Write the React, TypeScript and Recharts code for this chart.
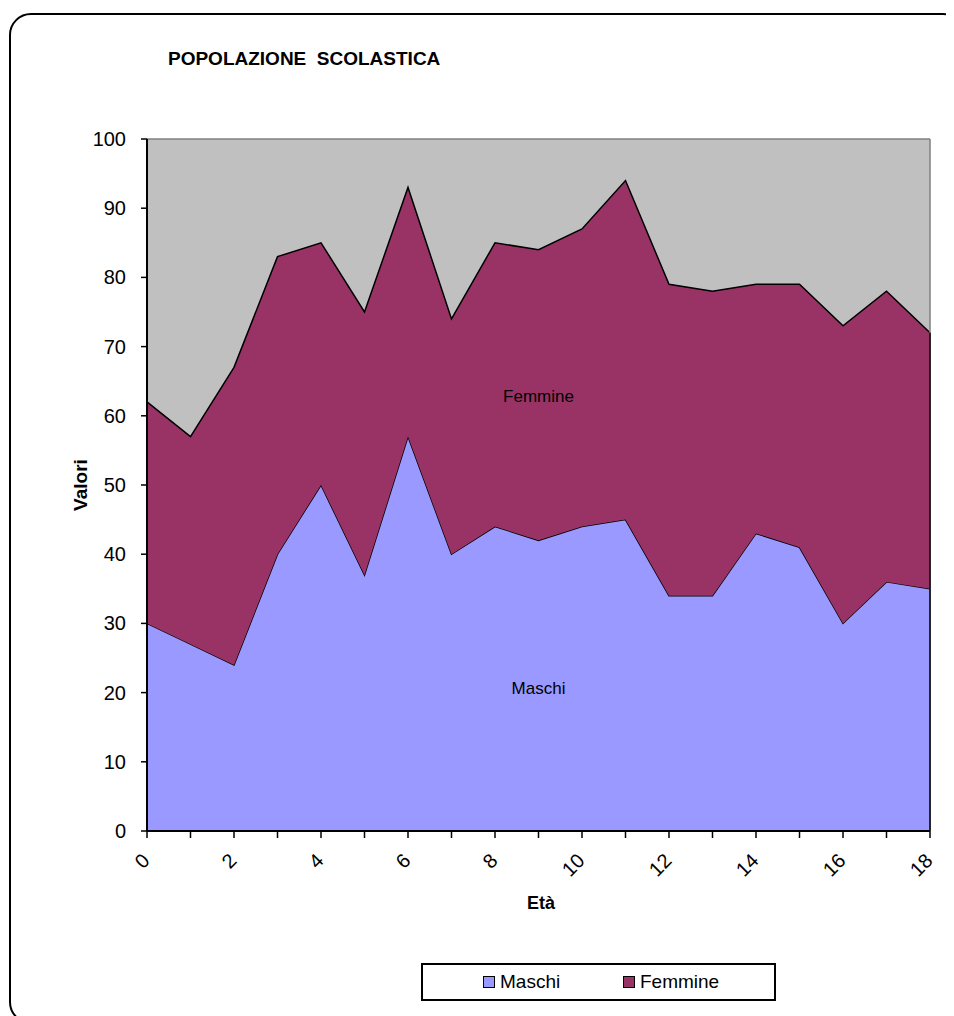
import { AreaChart, Area, XAxis, YAxis, CartesianGrid, ReferenceLine, ReferenceDot } from 'recharts';

// età 0..18
const eta = [0, 1, 2, 3, 4, 5, 6, 7, 8, 9, 10, 11, 12, 13, 14, 15, 16, 17, 18];
const maschi = [30, 27, 24, 40, 50, 37, 57, 40, 44, 42, 44, 45, 34, 34, 43, 41, 30, 36, 35];
const femmine = [32, 30, 43, 43, 35, 38, 36, 34, 41, 42, 43, 49, 45, 44, 36, 38, 43, 42, 37];
const yTicks = [0, 10, 20, 30, 40, 50, 60, 70, 80, 90, 100];

const MASCHI_COLOR = '#9999FF';
const FEMMINE_COLOR = '#993366';
const PLOT_BG = '#C0C0C0';
const FONT = '"Liberation Sans", Arial, sans-serif';

const data = eta.map((e, i) => ({ eta: e, maschi: maschi[i], femmine: femmine[i] }));
const last = data.length - 1;
const lastTotal = maschi[last] + femmine[last];

const legendItems = [
  { name: 'Maschi', color: MASCHI_COLOR, left: 60 },
  { name: 'Femmine', color: FEMMINE_COLOR, left: 200 },
];

const XTick = (props: any) => {
  const { x, y, payload, index } = props;
  if (index % 2 !== 0) return null;
  const tx = x - 1;
  const ty = y + 17;
  return (
    <text
      x={tx}
      y={ty}
      transform={`rotate(-45, ${tx}, ${ty})`}
      textAnchor="end"
      dominantBaseline="central"
      fontSize={20}
      fontFamily={FONT}
      fill="#000"
    >
      {payload.value}
    </text>
  );
};

const YTick = (props: any) => {
  const { x, y, payload } = props;
  return (
    <text
      x={x - 13}
      y={y}
      textAnchor="end"
      dominantBaseline="central"
      fontSize={20}
      fontFamily={FONT}
      fill="#000"
    >
      {payload.value}
    </text>
  );
};

export default function App() {
  return (
    <div style={{ position: 'relative', width: 946, height: 1008, overflow: 'hidden', fontFamily: FONT }}>
      <div
        style={{
          position: 'absolute',
          left: 1,
          top: 5,
          width: 952,
          height: 1007,
          border: '2px solid #000',
          borderRadius: 22,
        }}
      />
      <div
        style={{
          position: 'absolute',
          left: 160,
          top: 40,
          fontSize: 19,
          fontWeight: 'bold',
          whiteSpace: 'pre',
        }}
      >
        {'POPOLAZIONE  SCOLASTICA'}
      </div>
      <div
        style={{
          position: 'absolute',
          left: 73,
          top: 477,
          transform: 'translate(-50%, -50%) rotate(-90deg)',
          fontSize: 19,
          fontWeight: 'bold',
        }}
      >
        Valori
      </div>
      <div
        style={{
          position: 'absolute',
          left: 533,
          top: 895,
          transform: 'translate(-50%, -50%)',
          fontSize: 18,
          fontWeight: 'bold',
        }}
      >
        Età
      </div>
      <AreaChart
        width={946}
        height={1008}
        data={data}
        margin={{ top: 131, right: 24, left: 0, bottom: 105 }}
        style={{ position: 'absolute', left: 0, top: 0 }}
      >
        <CartesianGrid horizontal={false} vertical={false} fill={PLOT_BG} />
        <XAxis
          dataKey="eta"
          interval={0}
          height={80}
          tickSize={7}
          tickLine={{ stroke: '#000', strokeWidth: 1.5 }}
          axisLine={{ stroke: '#000', strokeWidth: 2 }}
          tick={<XTick />}
        />
        <YAxis
          domain={[0, 100]}
          ticks={yTicks}
          width={139}
          tickSize={6}
          interval={0}
          tickLine={{ stroke: '#000', strokeWidth: 1.5 }}
          axisLine={{ stroke: '#000', strokeWidth: 2 }}
          tick={<YTick />}
        />
        <Area
          type="linear"
          dataKey="maschi"
          name="Maschi"
          stackId="1"
          stroke="#000"
          strokeWidth={1.5}
          fill={MASCHI_COLOR}
          fillOpacity={1}
          dot={false}
          activeDot={false}
          isAnimationActive={false}
        />
        <Area
          type="linear"
          dataKey="femmine"
          name="Femmine"
          stackId="1"
          stroke="#000"
          strokeWidth={1.5}
          fill={FEMMINE_COLOR}
          fillOpacity={1}
          dot={false}
          activeDot={false}
          isAnimationActive={false}
        />
        <ReferenceLine y={100} stroke="#808080" strokeWidth={1.5} />
        <ReferenceLine x={18} stroke="#808080" strokeWidth={1.5} />
        <ReferenceLine
          segment={[
            { x: eta[last], y: 0 },
            { x: eta[last], y: lastTotal },
          ]}
          stroke="#000"
          strokeWidth={1.5}
        />
        <ReferenceDot
          x={9}
          y={62.8}
          r={0}
          stroke="none"
          label={{ value: 'Femmine', position: 'center', fontSize: 17, fontFamily: FONT, fill: '#000' }}
        />
        <ReferenceDot
          x={9}
          y={20.7}
          r={0}
          stroke="none"
          label={{ value: 'Maschi', position: 'center', fontSize: 17, fontFamily: FONT, fill: '#000' }}
        />
      </AreaChart>
      <div
        style={{
          position: 'absolute',
          left: 413,
          top: 955,
          boxSizing: 'border-box',
          width: 355,
          height: 38,
          border: '2px solid #000',
          background: '#fff',
          fontSize: 19,
          color: '#000',
        }}
      >
        {legendItems.map(item => (
          <div key={item.name} style={{ position: 'absolute', left: item.left, top: 6, display: 'flex', alignItems: 'center' }}>
            <span
              style={{
                display: 'inline-block',
                width: 10,
                height: 10,
                background: item.color,
                border: '1.5px solid #000',
                marginRight: 5,
              }}
            />
            <span>{item.name}</span>
          </div>
        ))}
      </div>
    </div>
  );
}
